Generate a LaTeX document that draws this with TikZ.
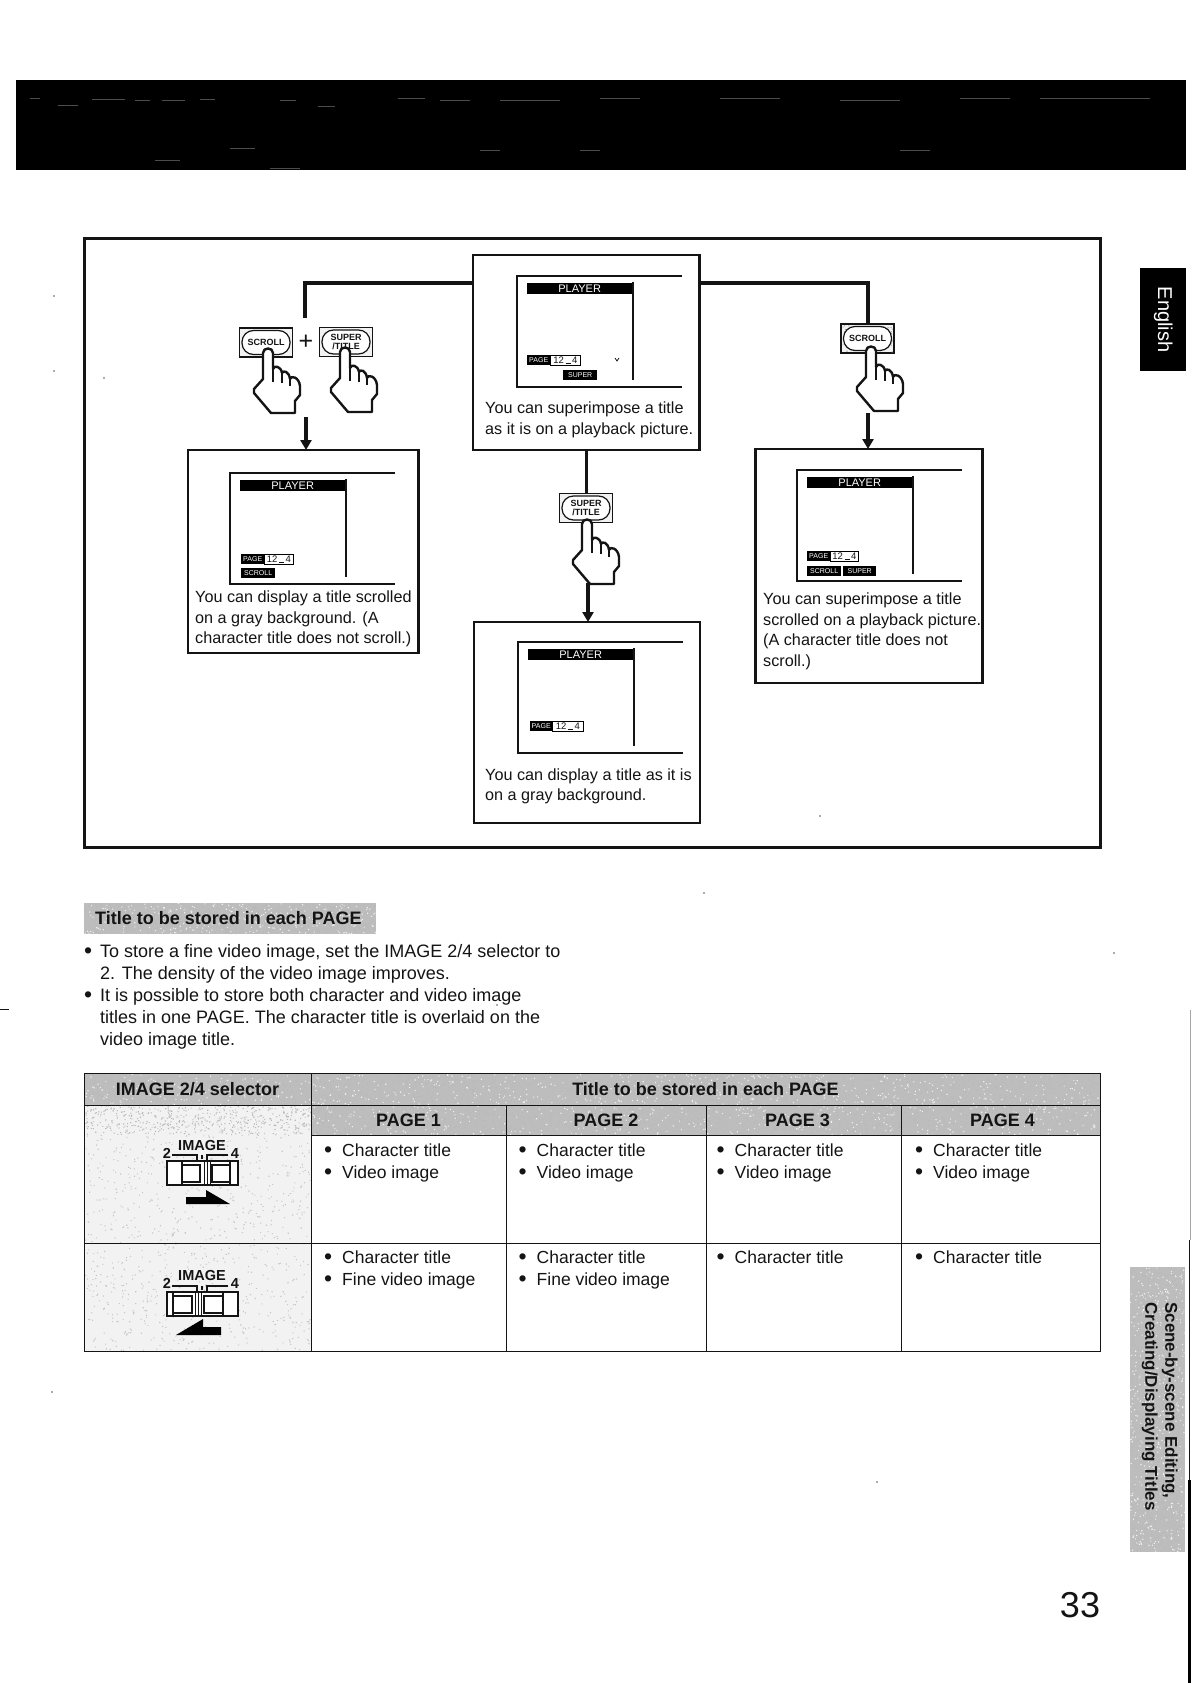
\documentclass[tikz,border=0pt]{standalone}
\usepackage{fontspec}
\setmainfont{Liberation Sans}
\usetikzlibrary{arrows.meta}
\definecolor{ink}{HTML}{141414}
\definecolor{dgray}{HTML}{BDBDBD}
\definecolor{lgray}{HTML}{F2F2F2}
\newcommand{\speckle}[6]{\fill[#6] foreach \i in {1,...,#5} {({#1+#3*rnd},{#2+#4*rnd}) rectangle ++(1.1,1.1)};}
\newcommand{\bigdot}{{\fontsize{23}{22}\selectfont\raisebox{-1.4pt}{•}}}
\newcommand{\bul}{\makebox[18pt][l]{\bigdot}}
\newcommand{\gapmark}{\,\rule{5pt}{.7pt}\,}
\tikzset{
  x=1pt,y=-1pt,
  body/.style={font=\fontsize{17.5}{22}\selectfont,text=ink,inner sep=0pt,anchor=north west,align=left},
  para/.style={font=\fontsize{18}{22}\selectfont,text=ink,inner sep=0pt,anchor=north west,align=left},
  boxtxt/.style={font=\fontsize{16.2}{20.5}\selectfont,text=ink,inner sep=0pt,anchor=north west,align=left},
  bold/.style={font=\fontsize{18}{21}\selectfont\bfseries,text=ink,inner sep=0pt},
  panel/.style={draw=ink,line width=2.2pt,fill=white,anchor=north west,inner sep=0pt,outer sep=0pt},
  cell/.style={draw=ink,line width=.9pt,anchor=north west,inner sep=0pt,outer sep=0pt},
  conn/.style={draw=ink,line width=3.2pt},
  arr/.style={conn,-{Triangle[length=10pt,width=11pt]}},
  chip/.style={fill=black,text=white,inner sep=0pt,anchor=north west,font=\fontsize{7}{7}\selectfont},
  digits/.style={draw=black,line width=.8pt,fill=white,text=ink,inner sep=0pt,anchor=north west,font=\fontsize{9.5}{10}\selectfont},
  btnbox/.style={draw=ink,line width=1.4pt,fill=lgray,inner sep=0pt,minimum width=53pt,minimum height=29pt},
  btnoval/.style={draw=ink,line width=1.2pt,fill=white,rounded corners=11.5pt,inner sep=0pt,minimum width=48pt,minimum height=24pt,align=center,font=\fontsize{9}{9.5}\selectfont\bfseries,text=ink},
  iconlabel/.style={font=\fontsize{14.5}{14.5}\selectfont\bfseries,text=ink,inner sep=0pt},
  screen/.pic={
    \draw[line width=1.9pt,draw=ink] (165,0) -- (0,0) -- (0,111) -- (165,111);
    \draw[line width=1.7pt,draw=ink] (116,6) -- (116,104);
    \node[chip,minimum width=105pt,minimum height=11pt,font=\fontsize{11}{11}\selectfont,text=white] (bar) at (10,7) {PLAYER};
  },
  fingerhand/.pic={
    \draw[line width=2.4pt,draw=ink,fill=white,line join=round]
      (-5,30) -- (-5,4) .. controls (-5,-2) and (5,-2) .. (5,4) -- (5,20)
      .. controls (6,16) and (13,17) .. (14,24)
      .. controls (15,21) and (21,22) .. (22,30)
      .. controls (23,26) and (31,28) .. (32,37)
      -- (32,46) -- (27,52) -- (27,64) -- (3,64) -- (-14,44) -- (-14,40) -- cycle;
    \draw[line width=1.7pt,draw=ink] (5,20) -- (5,33) (14,24) -- (14,34) (22,30) -- (22,37);
  },
  selector/.pic={
    \draw[line width=1.2pt,draw=ink] (5,10) -- (30,10) -- (30,16) (61,10) -- (40,10) -- (40,16) (35,10) -- (35,14);
    \draw[line width=1.7pt,draw=ink,fill=white] (0,16) rectangle (71,40);
  },
}
\begin{document}
\begin{tikzpicture}
\useasboundingbox (0,0) rectangle (1191,1683);
\pgfmathsetseed{33}
\fill[white] (0,0) rectangle (1191,1683);

% banner
\node[fill=black,anchor=north west,inner sep=0pt,minimum width=1170pt,minimum height=90pt] (banner) at (16,80) {};
\foreach \xa/\ya/\xb in {30/98/40,58/105/78,92/99/125,135/100/150,162/100/185,200/99/215,280/100/296,318/106/335,398/98/425,440/100/470,500/100/560,580/150/600,230/148/255,155/160/180,270/168/300,600/98/640,720/98/780,840/100/900,960/98/1010,1040/98/1150,480/150/500,900/150/930}
  \draw[black!70,line width=.7pt] (\xa,\ya) -- (\xb,\ya);

% English tab
\node[fill=black,anchor=north west,inner sep=0pt,minimum width=46pt,minimum height=103pt] (engtab) at (1140,268) {};
\node[rotate=-90,text=white,font=\fontsize{20}{20}\selectfont,inner sep=0pt] (english) at (engtab.center) {English};

% side tab
\node[fill=dgray,anchor=north west,inner sep=0pt,minimum width=55pt,minimum height=285pt] (sidetab) at (1130,1267) {};
\speckle{1130}{1267}{54}{284}{1300}{gray!55}
\speckle{1130}{1267}{54}{284}{500}{gray!12}
\node[rotate=-90,anchor=north west,inner sep=0pt,align=left,font=\fontsize{17}{20}\selectfont\bfseries,text=ink] (sidetxt) at (1178,1302) {Scene-by-scene Editing,\\Creating/Displaying Titles};

% big frame
\node[draw=ink,line width=3pt,anchor=north west,inner sep=0pt,outer sep=0pt,minimum width=1016pt,minimum height=609pt] (frame) at (84,238) {};

% connector helpers
\coordinate (lturn) at (305,283);
\coordinate (lend) at (305,318);
\coordinate (rturn) at (868,283);
\coordinate (lhand) at (306,417);
\coordinate (chand) at (588,583);
\coordinate (rhand) at (868,413);

% panels
\node[panel,minimum width=226.5pt,minimum height=195pt] (midbox) at (473,255) {};
\node[panel,minimum width=230.5pt,minimum height=203pt] (leftbox) at (188,450) {};
\node[panel,minimum width=226pt,minimum height=201pt] (botbox) at (474,622) {};
\node[panel,minimum width=227pt,minimum height=234pt] (rightbox) at (755.5,449) {};

% buttons
\node[btnbox] (bscrolla) at (266,342.5) {};
\node[btnoval] (bscrollaov) at (bscrolla.center) {SCROLL};
\node[btnbox] (bsupera) at (346,342) {};
\node[btnoval] (bsuperaov) at (bsupera.center) {SUPER\\/TITLE};
\node[btnbox] (bsuperb) at (586,508) {};
\node[btnoval] (bsuperbov) at (bsuperb.center) {SUPER\\/TITLE};
\node[btnbox] (bscrollb) at (867.5,338.5) {};
\speckle{842}{325}{51}{27}{70}{gray!60}
\node[btnoval] (bscrollbov) at (bscrollb.center) {SCROLL};
\node[font=\fontsize{25}{25}\selectfont,text=ink,inner sep=0pt] (plus) at (306,342) {+};

% connectors
\draw[conn] (midbox.west |- lturn) -- (lturn) -- (lend);
\draw[conn] (midbox.east |- rturn) -- (rturn) -- (bscrollb.north -| rturn);
\draw[conn] (midbox.south) -- (midbox.south |- bsuperb.north);
\draw[arr] (lhand) -- (lhand |- leftbox.north);
\draw[arr] (chand) -- (chand |- botbox.north);
\draw[arr] (rhand) -- (rhand |- rightbox.north);

% hands
\pic (handa) at (268,349) {fingerhand};
\pic (handb) at (345,348) {fingerhand};
\pic (handc) at (587,520) {fingerhand};
\pic (handd) at (871,347) {fingerhand};

% screens
\pic (smid) at (517,276) {screen};
\node[chip,minimum width=23pt,minimum height=10pt] (smidp) at (527,355) {PAGE};
\node[digits,minimum width=30pt,minimum height=10pt] (smidd) at (550,355) {12\gapmark 4};
\node[chip,minimum width=34pt,minimum height=9.5pt] (smids) at (563,370) {SUPER};
\draw[line width=.8pt,draw=ink] (615,358) -- (617,361) -- (619,358);

\pic (slef) at (230,473) {screen};
\node[chip,minimum width=23pt,minimum height=9.5pt] (slefp) at (241,554) {PAGE};
\node[digits,minimum width=29pt,minimum height=9.5pt] (slefd) at (264,554) {12\gapmark 4};
\node[chip,minimum width=34pt,minimum height=10pt] (slefs) at (241,568) {SCROLL};

\pic (srig) at (797,470) {screen};
\node[chip,minimum width=23pt,minimum height=9.5pt] (srigp) at (807,551) {PAGE};
\node[digits,minimum width=28pt,minimum height=9.5pt] (srigd) at (830,551) {12\gapmark 4};
\node[chip,minimum width=34pt,minimum height=9.5pt] (srigs) at (807,566) {SCROLL};
\node[chip,minimum width=33pt,minimum height=9.5pt] (srigt) at (843,566) {SUPER};

\pic (sbot) at (518,642) {screen};
\node[chip,minimum width=22pt,minimum height=10pt] (sbotp) at (530,721) {PAGE};
\node[digits,minimum width=31pt,minimum height=10pt] (sbotd) at (552,721) {12\gapmark 4};

% box texts
\node[boxtxt] (tmid) at (485,402) {You can superimpose a title\\as it is on a playback picture.};
\node[boxtxt] (tlef) at (195,591) {You can display a title scrolled\\on a gray background. (A\\character title does not scroll.)};
\node[boxtxt] (trig) at (763,593) {You can superimpose a title\\scrolled on a playback picture.\\(A character title does not\\scroll.)};
\node[boxtxt] (tbot) at (485,768.5) {You can display a title as it is\\on a gray background.};

% heading
\node[fill=dgray,anchor=north west,inner sep=0pt,minimum width=292pt,minimum height=31pt] (heading) at (84,903) {};
\speckle{84}{903}{291}{30}{1000}{gray!55}
\speckle{84}{903}{291}{30}{300}{gray!12}
\node[bold,anchor=base west] (headingtxt) at (95,924) {Title to be stored in each PAGE};

% bullets
\node[para] (bullets) at (84,943.8) {\makebox[16pt][l]{\bigdot}To store a fine video image, set the IMAGE 2/4 selector to\\\hspace*{16pt}2. The density of the video image improves.\\\makebox[16pt][l]{\bigdot}It is possible to store both character and video image\\\hspace*{16pt}titles in one PAGE. The character title is overlaid on the\\\hspace*{16pt}video image title.};

% table
\node[cell,fill=dgray,minimum width=227pt,minimum height=32pt] (hdrl) at (84,1073) {};
\node[cell,fill=dgray,minimum width=789pt,minimum height=32pt] (hdrr) at (311,1073) {};
\node[cell,fill=dgray,minimum width=195pt,minimum height=30pt] (pa) at (311,1105) {};
\node[cell,fill=dgray,minimum width=200pt,minimum height=30pt] (pb) at (506,1105) {};
\node[cell,fill=dgray,minimum width=195pt,minimum height=30pt] (pc) at (706,1105) {};
\node[cell,fill=dgray,minimum width=199pt,minimum height=30pt] (pd) at (901,1105) {};
\node[cell,fill=lgray,minimum width=227pt,minimum height=138pt] (sela) at (84,1105) {};
\node[cell,fill=lgray,minimum width=227pt,minimum height=108pt] (selb) at (84,1243) {};
\node[cell,minimum width=195pt,minimum height=108pt] (caa) at (311,1135) {};
\node[cell,minimum width=200pt,minimum height=108pt] (cab) at (506,1135) {};
\node[cell,minimum width=195pt,minimum height=108pt] (cac) at (706,1135) {};
\node[cell,minimum width=199pt,minimum height=108pt] (cad) at (901,1135) {};
\node[cell,minimum width=195pt,minimum height=108pt] (cba) at (311,1243) {};
\node[cell,minimum width=200pt,minimum height=108pt] (cbb) at (506,1243) {};
\node[cell,minimum width=195pt,minimum height=108pt] (cbc) at (706,1243) {};
\node[cell,minimum width=199pt,minimum height=108pt] (cbd) at (901,1243) {};
\speckle{85}{1074}{1014}{60}{4000}{gray!55}
\speckle{85}{1074}{1014}{60}{1200}{gray!12}
\speckle{85}{1106}{225}{244}{1000}{gray!45}
\draw[line width=.9pt,draw=ink] (hdrl.north west) -- (hdrr.north east) -- (hdrr.south east) -- (hdrl.south west) -- cycle;
\draw[line width=.9pt,draw=ink] (hdrl.north east) -- (hdrl.south east) (pa.north west) -- (pa.south west) -- (pd.south east) (pb.north west) -- (pb.south west) (pc.north west) -- (pc.south west) (pd.north west) -- (pd.south west) (sela.north west) -- (selb.south west) (sela.south west) -- (sela.south east);

\node[bold] (hdrltxt) at (hdrl.center) {IMAGE 2/4 selector};
\node[bold] (hdrrtxt) at (hdrr.center) {Title to be stored in each PAGE};
\node[bold] (patxt) at (pa.center) {PAGE 1};
\node[bold] (pbtxt) at (pb.center) {PAGE 2};
\node[bold] (pctxt) at ([xshift=-6pt]pc.center) {PAGE 3};
\node[bold] (pdtxt) at ([xshift=2pt]pd.center) {PAGE 4};

\node[body] (taa) at (324,1143.3) {\bul Character title\\\bul Video image};
\node[body] (tab) at (518.5,1143.3) {\bul Character title\\\bul Video image};
\node[body] (tac) at (716.5,1143.3) {\bul Character title\\\bul Video image};
\node[body] (tad) at (915,1143.3) {\bul Character title\\\bul Video image};
\node[body] (tba) at (324,1250.3) {\bul Character title\\\bul Fine video image};
\node[body] (tbb) at (518.5,1250.3) {\bul Character title\\\bul Fine video image};
\node[body] (tbc) at (716.5,1250.3) {\bul Character title};
\node[body] (tbd) at (915,1250.3) {\bul Character title};

% selector icons
\pic (icona) at (167,1145) {selector};
\draw[line width=1.5pt,draw=ink] (182,1165) rectangle (200,1182) (212,1165) rectangle (230,1182);
\draw[line width=.9pt,draw=ink] (204,1161) -- (204,1185) (207,1161) -- (207,1185) (210,1161) -- (210,1185);
\draw[line width=1.6pt,draw=ink] (182,1161) -- (182,1185) (230,1161) -- (230,1185);
\node[iconlabel] (imga) at (202,1145) {IMAGE};
\node[iconlabel] (imgatwo) at (167,1153) {2};
\node[iconlabel] (imgafour) at (235,1153) {4};
\fill[black] (186,1197) -- (206,1197) -- (206,1190) -- (230,1204) -- (186,1204) -- cycle;

\pic (iconb) at (167,1276) {selector};
\draw[line width=1.5pt,draw=ink] (173,1296) rectangle (192,1313) (204,1296) rectangle (223,1313);
\draw[line width=.9pt,draw=ink] (195,1292) -- (195,1316) (198,1292) -- (198,1316) (201,1292) -- (201,1316);
\draw[line width=1.6pt,draw=ink] (173,1292) -- (173,1316) (223,1292) -- (223,1316);
\node[iconlabel] (imgb) at (202,1275) {IMAGE};
\node[iconlabel] (imgbtwo) at (167,1283) {2};
\node[iconlabel] (imgbfour) at (235,1283) {4};
\fill[black] (176,1335) -- (203,1319) -- (203,1327) -- (221,1327) -- (221,1335) -- cycle;

% page number
\node[font=\fontsize{36}{36}\selectfont,text=ink,inner sep=0pt] (pagenum) at (1080,1605) {33};

% right page edge
\draw[line width=.8pt,draw=gray!70] (1190,1010) -- (1190,1240);
\draw[line width=1.5pt,draw=ink] (1189.5,1240) -- (1189.5,1480);
\draw[line width=3pt,draw=black] (1189.5,1480) -- (1189.5,1683);

% stray marks
\fill[ink] (0,1008.5) rectangle (9,1010);
\foreach \px/\py in {54/296,54/371,104/378,52/1392,704/893,820/816,1114/953,877/1482,497/1005}
  \fill[gray!70!black] (\px,\py) circle (.9);
\end{tikzpicture}
\end{document}
